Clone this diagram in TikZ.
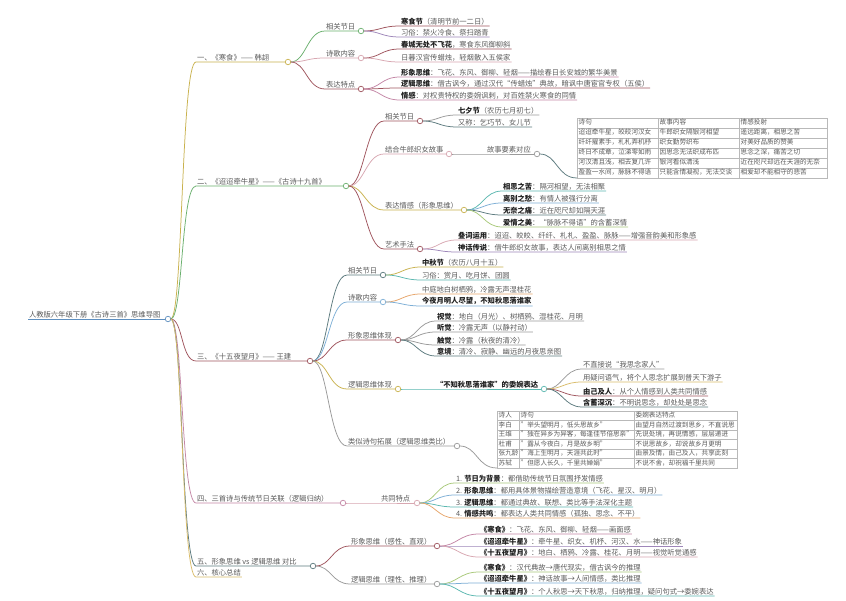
\documentclass[tikz,border=0pt]{standalone}
\usepackage{fontspec}
\setmainfont{Noto Sans CJK SC}
\usetikzlibrary{matrix}
\definecolor{cRoot}{HTML}{5E8FBF}
\definecolor{cY}{HTML}{C9B24E}
\definecolor{cG}{HTML}{6BB06E}
\definecolor{cM}{HTML}{A0555E}
\definecolor{cP}{HTML}{C487A6}
\definecolor{cS}{HTML}{5C7A7E}
\definecolor{cT}{HTML}{D9BC6A}
\definecolor{cTeal}{HTML}{5BB8B0}
\definecolor{cB}{HTML}{7DAFD6}
\definecolor{cO}{HTML}{E7A56A}
\definecolor{cV}{HTML}{9E86B9}
\definecolor{cGr}{HTML}{9A9A9A}
\definecolor{cPk}{HTML}{D8A7B1}
\definecolor{cLg}{HTML}{A9C97A}
\definecolor{txt}{HTML}{5A5A5A}
\newcommand\kw[1]{{\bfseries\color{black!88}#1}}
\newcommand\mmtopic[8]{%
  \node[tt,anchor=south west] (#1) at (#2,#3) {#8};
  \node[dot,draw=#4] (#1c) at (#7,#3) {};
  \draw[ln,#4] (#5) .. controls +(#6,0) and +(-#6,0) .. (#1.south west) -- (#1c);}
\newcommand\mmleaf[7]{%
  \node[tt,anchor=south west] (#1) at (#2,#3) {#7};
  \draw[ln,#4] (#5) .. controls +(#6,0) and +(-#6,0) .. (#1.south west) -- (#1.south east);}
\tikzset{
  tt/.style={font=\fontsize{7.3}{8.5}\selectfont, text=txt, inner xsep=1pt, inner ysep=0.9pt, outer sep=0pt},
  ln/.style={line width=0.75pt},
  dot/.style={circle, fill=white, inner sep=0pt, minimum size=5.5pt, line width=0.7pt, outer sep=0pt},
  cell/.style={draw=gray!55, line width=0.4pt, font=\fontsize{6.6}{7.5}\selectfont, text=txt, inner xsep=1.5pt, inner ysep=1.5pt, text height=5.6pt, text depth=1.4pt, align=left},
  tbl/.style={matrix of nodes, inner sep=0pt, outer sep=0pt, column sep=-0.4pt, row sep=-0.4pt, nodes={cell}}
}
\begin{document}
\begin{tikzpicture}[x=1pt,y=-1pt]
\fill[white] (0,0) rectangle (846,601);
\useasboundingbox (0,0) rectangle (846,601);

% root
\node[tt,anchor=south west] (root) at (28,319) {人教版六年级下册《古诗三首》思维导图};
\node[dot,draw=cRoot] (rootc) at (168,319) {};
\draw[ln,cRoot] (root.south west) -- (rootc);

% ===== Section 1
\mmtopic{a1}{196}{62}{cY}{rootc}{15}{288}{一、《寒食》—— 韩翃}
\mmtopic{b11}{325}{31}{cG}{a1c}{18}{361}{相关节日}
\mmtopic{b12}{325}{58}{cPk}{a1c}{18}{361}{诗歌内容}
\mmtopic{b13}{325}{89}{cM}{a1c}{18}{361}{表达特点}
\mmleaf{l111}{400}{26}{cM}{b11c}{19}{\kw{寒食节}（清明节前一二日）}
\mmleaf{l112}{400}{37}{cV}{b11c}{19}{习俗：禁火冷食、祭扫踏青}
\mmleaf{l121}{400}{49}{cM}{b12c}{19}{\kw{春城无处不飞花}，寒食东风御柳斜}
\mmleaf{l122}{400}{62}{cPk}{b12c}{19}{日暮汉宫传蜡烛，轻烟散入五侯家}
\mmleaf{l131}{400}{77}{cP}{b13c}{19}{\kw{形象思维}：飞花、东风、御柳、轻烟——描绘春日长安城的繁华美景}
\mmleaf{l132}{400}{88}{cM}{b13c}{19}{\kw{逻辑思维}：借古讽今，通过汉代“传蜡烛”典故，暗讽中唐宦官专权（五侯）}
\mmleaf{l133}{400}{100}{cP}{b13c}{19}{\kw{情感}：对权贵特权的委婉讽刺，对百姓禁火寒食的同情}

% ===== Section 2
\mmtopic{a2}{196}{186}{cG}{rootc}{15}{346}{二、《迢迢牵牛星》——《古诗十九首》}
\mmtopic{b21}{384}{121}{cM}{a2c}{18}{420}{相关节日}
\mmtopic{b22}{384}{154}{cPk}{a2c}{18}{449}{结合牛郎织女故事}
\mmtopic{b23}{384}{210}{cY}{a2c}{18}{464}{表达情感（形象思维）}
\mmtopic{b24}{384}{249}{cM}{a2c}{18}{420}{艺术手法}
\mmleaf{l211}{457}{115}{cGr}{b21c}{18}{\kw{七夕节}（农历七月初七）}
\mmleaf{l212}{457}{127}{cS}{b21c}{18}{又称：乞巧节、女儿节}
\mmtopic{b221}{486}{154}{cGr}{b22c}{18}{537}{故事要素对应}
\matrix (T1) [tbl, anchor=south west,
  column 1/.style={nodes={text width=78pt}},
  column 2/.style={nodes={text width=78pt}},
  column 3/.style={nodes={text width=85pt}}] at (577,178) {
诗句 & 故事内容 & 情感投射 \\
迢迢牵牛星，皎皎河汉女 & 牛郎织女隔银河相望 & 遥远距离，相思之苦 \\
纤纤擢素手，札札弄机杼 & 织女勤劳织布 & 对美好品质的赞美 \\
终日不成章，泣涕零如雨 & 因思念无法织成布匹 & 思念之深，痛苦之切 \\
河汉清且浅，相去复几许 & 银河看似清浅 & 近在咫尺却远在天涯的无奈 \\
盈盈一水间，脉脉不得语 & 只能含情凝视，无法交谈 & 相爱却不能相守的悲苦 \\
};
\draw[ln,cS] (b221c) .. controls +(20,0) and +(-20,0) .. (T1.south west);
\mmleaf{l231}{502}{191}{cTeal}{b23c}{18}{\kw{相思之苦}：隔河相望，无法相聚}
\mmleaf{l232}{502}{203}{cB}{b23c}{18}{\kw{离别之愁}：有情人被强行分离}
\mmleaf{l233}{502}{215}{cS}{b23c}{18}{\kw{无奈之痛}：近在咫尺却如隔天涯}
\mmleaf{l234}{502}{227}{cLg}{b23c}{18}{\kw{爱情之美}：“脉脉不得语”的含蓄深情}
\mmleaf{l241}{457}{240}{cPk}{b24c}{18}{\kw{叠词运用}：迢迢、皎皎、纤纤、札札、盈盈、脉脉——增强音韵美和形象感}
\mmleaf{l242}{457}{252}{cV}{b24c}{18}{\kw{神话传说}：借牛郎织女故事，表达人间离别相思之情}

% ===== Section 3
\mmtopic{a3}{196}{361}{cM}{rootc}{15}{310}{三、《十五夜望月》—— 王建}
\mmtopic{b31}{347}{275}{cS}{a3c}{18}{383}{相关节日}
\mmtopic{b32}{347}{302}{cB}{a3c}{18}{383}{诗歌内容}
\mmtopic{b33}{347}{340}{cM}{a3c}{18}{398}{形象思维体现}
\mmtopic{b34}{347}{389}{cY}{a3c}{18}{398}{逻辑思维体现}
\mmtopic{b35}{347}{446}{cGr}{a3c}{18}{457}{类似诗句拓展（逻辑思维类比）}
\mmleaf{l311}{421}{267}{cY}{b31c}{18}{\kw{中秋节}（农历八月十五）}
\mmleaf{l312}{421}{280}{cTeal}{b31c}{18}{习俗：赏月、吃月饼、团圆}
\mmleaf{l321}{421}{294}{cO}{b32c}{18}{中庭地白树栖鸦，冷露无声湿桂花}
\mmleaf{l322}{421}{306}{cB}{b32c}{18}{\kw{今夜月明人尽望，不知秋思落谁家}}
\mmleaf{l331}{436}{321}{cGr}{b33c}{18}{\kw{视觉}：地白（月光）、树栖鸦、湿桂花、月明}
\mmleaf{l332}{436}{332}{cGr}{b33c}{18}{\kw{听觉}：冷露无声（以静衬动）}
\mmleaf{l333}{436}{345}{cGr}{b33c}{18}{\kw{触觉}：冷露（秋夜的清冷）}
\mmleaf{l334}{436}{356}{cS}{b33c}{18}{\kw{意境}：清冷、寂静、幽远的月夜思亲图}
\mmtopic{b341}{435}{389}{cTeal}{b34c}{18}{544}{\kw{“不知秋思落谁家”的委婉表达}}
\mmleaf{l3411}{582}{369}{cGr}{b341c}{18}{不直接说“我思念家人”}
\mmleaf{l3412}{582}{382}{cT}{b341c}{18}{用疑问语气，将个人思念扩展到普天下游子}
\mmleaf{l3413}{582}{396}{cM}{b341c}{18}{\kw{由己及人}：从个人情感到人类共同情感}
\mmleaf{l3414}{582}{407}{cS}{b341c}{18}{\kw{含蓄深沉}：不明说思念，却处处是思念}
\matrix (T2) [tbl, anchor=south west,
  nodes={inner ysep=1.25pt},
  column 1/.style={nodes={text width=19pt}},
  column 2/.style={nodes={text width=112pt}},
  column 3/.style={nodes={text width=100pt}}] at (497,468) {
诗人 & 诗句 & 委婉表达特点 \\
李白 & "举头望明月，低头思故乡" & 由望月自然过渡到思乡，不直说思 \\
王维 & "独在异乡为异客，每逢佳节倍思亲" & 先说处境，再说情感，层层递进 \\
杜甫 & "露从今夜白，月是故乡明" & 不说思故乡，却说故乡月更明 \\
张九龄 & "海上生明月，天涯共此时" & 由景及情，由己及人，共享此刻 \\
苏轼 & "但愿人长久，千里共婵娟" & 不说不舍，却祝福千里共同 \\
};
\draw[ln,cGr] (b35c) .. controls +(20,0) and +(-20,0) .. (T2.south west);

% ===== Section 4
\mmtopic{a4}{196}{503}{cP}{rootc}{15}{343}{四、三首诗与传统节日关联（逻辑归纳）}
\mmtopic{b41}{380}{503}{cPk}{a4c}{18}{417}{共同特点}
\mmleaf{l41}{455}{483}{cLg}{b41c}{18}{1. \kw{节日为背景}：都借助传统节日氛围抒发情感}
\mmleaf{l42}{455}{495}{cB}{b41c}{18}{2. \kw{形象思维}：都用具体景物描绘营造意境（飞花、星汉、明月）}
\mmleaf{l43}{455}{507}{cTeal}{b41c}{18}{3. \kw{逻辑思维}：都通过典故、联想、类比等手法深化主题}
\mmleaf{l44}{455}{518}{cO}{b41c}{18}{4. \kw{情感共鸣}：都表达人类共同情感（孤独、思念、不平）}

% ===== Section 5
\mmtopic{a5}{196}{566}{cS}{rootc}{15}{313}{五、形象思维 vs 逻辑思维 对比}
\mmtopic{b51}{350}{546}{cM}{a5c}{18}{437}{形象思维（感性、直观）}
\mmtopic{b52}{350}{584}{cGr}{a5c}{18}{437}{逻辑思维（理性、推理）}
\mmleaf{l511}{479}{534}{cP}{b51c}{20}{\kw{《寒食》}：飞花、东风、御柳、轻烟——画面感}
\mmleaf{l512}{479}{546}{cV}{b51c}{20}{\kw{《迢迢牵牛星》}：牵牛星、织女、机杼、河汉、水——神话形象}
\mmleaf{l513}{479}{557}{cPk}{b51c}{20}{\kw{《十五夜望月》}：地白、栖鸦、冷露、桂花、月明——视觉听觉通感}
\mmleaf{l521}{479}{572}{cLg}{b52c}{20}{\kw{《寒食》}：汉代典故→唐代现实，借古讽今的推理}
\mmleaf{l522}{479}{583}{cB}{b52c}{20}{\kw{《迢迢牵牛星》}：神话故事→人间情感，类比推理}
\mmleaf{l523}{479}{596}{cTeal}{b52c}{20}{\kw{《十五夜望月》}：个人秋思→天下秋思，归纳推理，疑问句式→委婉表达}

% ===== Section 6
\mmleaf{a6}{196}{577}{cT}{rootc}{15}{六、核心总结}
\end{tikzpicture}
\end{document}
